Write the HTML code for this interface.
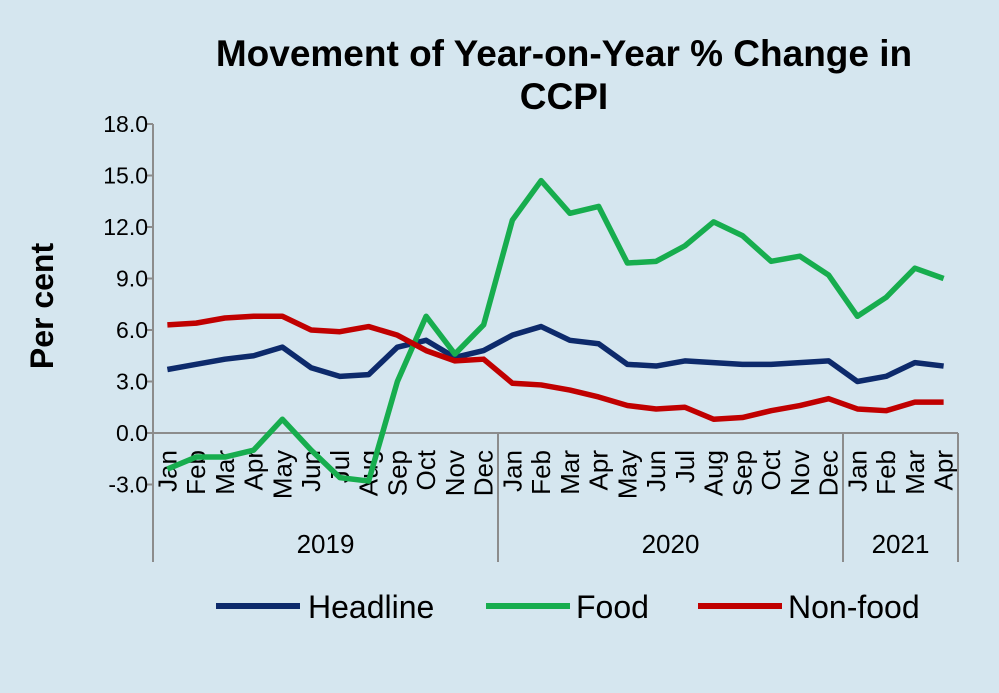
<!DOCTYPE html>
<html><head><meta charset="utf-8"><style>
html,body{margin:0;padding:0;background:#d5e6ef;}
svg{display:block;font-family:"Liberation Sans",Arial,sans-serif;}
</style></head><body>
<svg id="chart" width="999" height="693" viewBox="0 0 999 693">
<rect width="999" height="693" fill="#d5e6ef"/>
<text x="564" y="66" text-anchor="middle" font-size="37" font-weight="bold" fill="#000">Movement of Year-on-Year % Change in</text>
<text x="564" y="109" text-anchor="middle" font-size="37" font-weight="bold" fill="#000">CCPI</text>
<text transform="translate(53,306) rotate(-90)" text-anchor="middle" font-size="32" font-weight="bold">Per cent</text>
<g id="axes"></g>
<g id="series"></g>
<g id="legend">
<line x1="216" y1="606" x2="300" y2="606" stroke="#0d2a6b" stroke-width="6"/>
<text x="308" y="618" font-size="32">Headline</text>
<line x1="486" y1="606" x2="570" y2="606" stroke="#17ad4e" stroke-width="6"/>
<text x="576" y="618" font-size="32">Food</text>
<line x1="698" y1="606" x2="782" y2="606" stroke="#c00000" stroke-width="6"/>
<text x="788" y="618" font-size="32">Non-food</text>
</g>
</svg>
<script>
const months = ["Jan","Feb","Mar","Apr","May","Jun","Jul","Aug","Sep","Oct","Nov","Dec","Jan","Feb","Mar","Apr","May","Jun","Jul","Aug","Sep","Oct","Nov","Dec","Jan","Feb","Mar","Apr"];
const years = ["2019","2020","2021"];
const yearCounts = [12,12,4];
const yTicks = [-3,0,3,6,9,12,15,18];
const headline = [3.7,4.0,4.3,4.5,5.0,3.8,3.3,3.4,5.0,5.4,4.4,4.8,5.7,6.2,5.4,5.2,4.0,3.9,4.2,4.1,4.0,4.0,4.1,4.2,3.0,3.3,4.1,3.9];
const food = [-2.1,-1.4,-1.4,-1.0,0.8,-1.0,-2.6,-2.8,3.0,6.8,4.6,6.3,12.4,14.7,12.8,13.2,9.9,10.0,10.9,12.3,11.5,10.0,10.3,9.2,6.8,7.9,9.6,9.0];
const nonfood = [6.3,6.4,6.7,6.8,6.8,6.0,5.9,6.2,5.7,4.8,4.2,4.3,2.9,2.8,2.5,2.1,1.6,1.4,1.5,0.8,0.9,1.3,1.6,2.0,1.4,1.3,1.8,1.8];

const NS="http://www.w3.org/2000/svg";
const L=153,R=958,Y0=433,YTOP=124,YMIN=-3,YMAX=18;
const slot=(R-L)/months.length;
const yScale=v=>Y0-(v)*(Y0-YTOP)/18;
const xScale=i=>L+slot*(i+0.5);
function mk(tag,attrs,parent){const e=document.createElementNS(NS,tag);for(const k in attrs)e.setAttribute(k,attrs[k]);parent.appendChild(e);return e;}
const axes=document.getElementById('axes');
const gray="#8c8c8c";
let e=mk('line',{x1:L,y1:yScale(YMAX),x2:L,y2:562,stroke:gray,'stroke-width':2},axes);


e=mk('line',{x1:L-8,y1:Y0,x2:R,y2:Y0,stroke:gray,'stroke-width':2},axes);


yTicks.forEach(t=>{
  const y=yScale(t);
  let tk=mk('line',{x1:L-8,y1:y,x2:L,y2:y,stroke:gray,'stroke-width':2},axes);
  
  
  let tx=mk('text',{x:L-5,y:y+8,'text-anchor':'end','font-size':23},axes);
  tx.textContent=t.toFixed(1);
  
  
});
months.forEach((m,i)=>{
  const x=xScale(i);
  let tx=mk('text',{transform:`translate(${x+9},${450}) rotate(-90)`,'text-anchor':'end','font-size':26},axes);
  tx.textContent=m;
  
  
});
let start=0;
years.forEach((yr,j)=>{
  const n=yearCounts[j];
  const x2=L+slot*(start+n);
  let ln=mk('line',{x1:x2,y1:Y0,x2:x2,y2:562,stroke:gray,'stroke-width':2},axes);
  
  
  let tx=mk('text',{x:L+slot*(start+n/2),y:553,'text-anchor':'middle','font-size':26},axes);
  tx.textContent=yr;
  
  
  start+=n;
});
const ser=document.getElementById('series');
[[headline,'#0d2a6b','headline-line'],[food,'#17ad4e','food-line'],[nonfood,'#c00000','nonfood-line']].forEach(([d,c,n])=>{
  const p=mk('polyline',{points:d.map((v,i)=>xScale(i)+','+yScale(v)).join(' '),fill:'none',stroke:c,'stroke-width':5.5,'stroke-linejoin':'round'},ser);
  
  
});
</script>
</body></html>
